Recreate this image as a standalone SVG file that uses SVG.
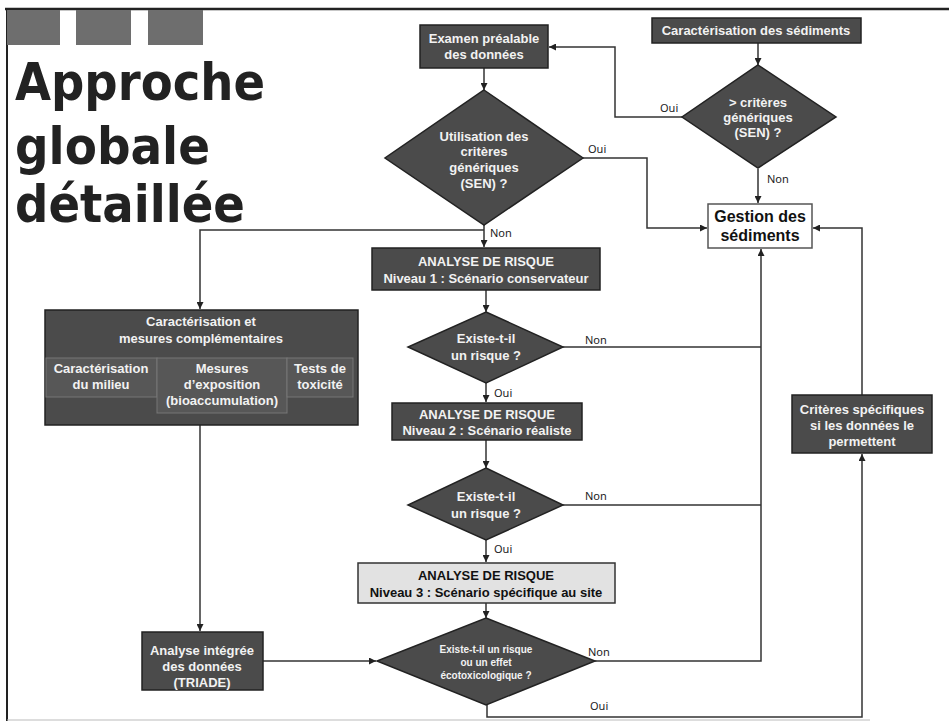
<svg xmlns="http://www.w3.org/2000/svg" width="949" height="723" viewBox="0 0 949 723">
  <defs>
    <marker id="arrow" viewBox="0 0 10 10" refX="10" refY="5" markerWidth="7" markerHeight="7" orient="auto" markerUnits="userSpaceOnUse">
      <path d="M0,0 L10,5 L0,10 z" fill="#222"/>
    </marker>
    <style>
      .frame { stroke: #222; fill: none; }
      .tab { fill: #6e6e6e; }
      .title { font-family: "DejaVu Sans", "Noto Sans", sans-serif; font-weight: bold; font-size: 52px; fill: #222; }
      .dark { fill: #4b4b4b; stroke: #222; stroke-width: 1.5; }
      .cell { fill: #575757; stroke: #777; stroke-width: 1; }
      .light { fill: #e2e2e2; stroke: #333; stroke-width: 1.5; }
      .white { fill: #fff; stroke: #555; stroke-width: 1.5; }
      .lbl { font-family: "Liberation Sans", Arial, sans-serif; font-weight: bold; font-size: 13px; fill: #f2f2f2; text-anchor: middle; }
      .lbl-dk { font-family: "Liberation Sans", Arial, sans-serif; font-weight: bold; font-size: 13px; fill: #111; text-anchor: middle; }
      .small { font-size: 10px; }
      .big { font-size: 16px; }
      .edge { font-family: "Noto Sans", "DejaVu Sans", sans-serif; font-size: 11px; fill: #222; }
      .conn path { fill: none; stroke: #333; stroke-width: 1.5; }
    </style>
  </defs>

  <rect width="949" height="723" fill="#fff"/>

  <!-- page frame and header tabs -->
  <g id="frame">
    <line class="frame" x1="5" y1="9" x2="949" y2="9" stroke-width="2.5"/>
    <line class="frame" x1="7" y1="9" x2="7" y2="721" stroke-width="2"/>
    <line x1="7" y1="720" x2="870" y2="720" stroke="#bbb" stroke-width="1"/>
    <rect class="tab" x="7" y="10" width="53" height="35"/>
    <rect class="tab" x="76" y="10" width="55" height="35"/>
    <rect class="tab" x="148" y="10" width="55" height="35"/>
  </g>

  <g id="title">
    <text class="title" x="15" y="100" textLength="250" lengthAdjust="spacingAndGlyphs">Approche</text>
    <text class="title" x="15" y="164" textLength="195" lengthAdjust="spacingAndGlyphs">globale</text>
    <text class="title" x="15" y="222" textLength="230" lengthAdjust="spacingAndGlyphs">détaillée</text>
  </g>

  <!-- connectors -->
  <g id="connectors" class="conn">
    <path d="M758,43 V65" marker-end="url(#arrow)"/>
    <path d="M682,117 H615 V47 H549" marker-end="url(#arrow)"/>
    <path d="M484,68 V90" marker-end="url(#arrow)"/>
    <path d="M583,158 H647 V228 H707" marker-end="url(#arrow)"/>
    <path d="M758,169 V203" marker-end="url(#arrow)"/>
    <path d="M484,225 V247" marker-end="url(#arrow)"/>
    <path d="M484,230 H200 V309" marker-end="url(#arrow)"/>
    <path d="M486,290 V312" marker-end="url(#arrow)"/>
    <path d="M563,347 H761"/>
    <path d="M486,383 V402" marker-end="url(#arrow)"/>
    <path d="M486,440 V468" marker-end="url(#arrow)"/>
    <path d="M563,505 H761"/>
    <path d="M486,540 V562" marker-end="url(#arrow)"/>
    <path d="M486,603 V618" marker-end="url(#arrow)"/>
    <path d="M595,661 H761 V249" marker-end="url(#arrow)"/>
    <path d="M487,705 V717 H862 V454" marker-end="url(#arrow)"/>
    <path d="M862,395 V228 H813" marker-end="url(#arrow)"/>
    <path d="M200,425 V631" marker-end="url(#arrow)"/>
    <path d="M263,661 H376" marker-end="url(#arrow)"/>
  </g>

  <!-- connector labels -->
  <g id="edge-labels">
    <text class="edge" x="660" y="112">Oui</text>
    <text class="edge" x="588" y="153">Oui</text>
    <text class="edge" x="767" y="183">Non</text>
    <text class="edge" x="490" y="237">Non</text>
    <text class="edge" x="585" y="344">Non</text>
    <text class="edge" x="494" y="397">Oui</text>
    <text class="edge" x="585" y="500">Non</text>
    <text class="edge" x="494" y="553">Oui</text>
    <text class="edge" x="588" y="656">Non</text>
    <text class="edge" x="590" y="710">Oui</text>
  </g>

  <g id="caracterisation-sediments">
    <rect class="dark" x="652" y="18" width="209" height="25"/>
    <text class="lbl" x="756" y="35">Caractérisation des sédiments</text>
  </g>

  <g id="criteres-generiques-test">
    <polygon class="dark" points="758,65 836,117 758,168 682,117"/>
    <text class="lbl" x="758" y="107">&gt; critères</text>
    <text class="lbl" x="758" y="122">génériques</text>
    <text class="lbl" x="758" y="137">(SEN) ?</text>
  </g>

  <g id="examen-prealable">
    <rect class="dark" x="420" y="25" width="128" height="43"/>
    <text class="lbl" x="484" y="43">Examen préalable</text>
    <text class="lbl" x="484" y="59">des données</text>
  </g>

  <g id="utilisation-criteres">
    <polygon class="dark" points="484,90 583,158 484,225 385,158"/>
    <text class="lbl" x="484" y="141">Utilisation des</text>
    <text class="lbl" x="484" y="156">critères</text>
    <text class="lbl" x="484" y="172">génériques</text>
    <text class="lbl" x="484" y="188">(SEN) ?</text>
  </g>

  <g id="gestion-sediments">
    <rect class="white" x="708" y="204" width="104" height="44"/>
    <text class="lbl-dk big" x="760" y="222">Gestion des</text>
    <text class="lbl-dk big" x="760" y="241">sédiments</text>
  </g>

  <g id="analyse-niveau-1">
    <rect class="dark" x="372" y="248" width="228" height="42"/>
    <text class="lbl" x="486" y="266">ANALYSE DE RISQUE</text>
    <text class="lbl" x="486" y="283">Niveau 1 : Scénario conservateur</text>
  </g>

  <g id="risque-1">
    <polygon class="dark" points="486,312 563,347 486,383 408,347"/>
    <text class="lbl" x="486" y="343">Existe-t-il</text>
    <text class="lbl" x="486" y="360">un risque ?</text>
  </g>

  <g id="analyse-niveau-2">
    <rect class="dark" x="392" y="403" width="190" height="37"/>
    <text class="lbl" x="487" y="419">ANALYSE DE RISQUE</text>
    <text class="lbl" x="487" y="435">Niveau 2 : Scénario réaliste</text>
  </g>

  <g id="risque-2">
    <polygon class="dark" points="486,468 563,505 486,540 408,505"/>
    <text class="lbl" x="486" y="501">Existe-t-il</text>
    <text class="lbl" x="486" y="518">un risque ?</text>
  </g>

  <g id="analyse-niveau-3">
    <rect class="light" x="358" y="563" width="257" height="40"/>
    <text class="lbl-dk" x="486" y="580">ANALYSE DE RISQUE</text>
    <text class="lbl-dk" x="486" y="597">Niveau 3 : Scénario spécifique au site</text>
  </g>

  <g id="risque-3">
    <polygon class="dark" points="486,618 595,661 486,705 377,661"/>
    <text class="lbl small" x="486" y="653">Existe-t-il un risque</text>
    <text class="lbl small" x="486" y="666">ou un effet</text>
    <text class="lbl small" x="486" y="679">écotoxicologique ?</text>
  </g>

  <g id="caracterisation-mesures">
    <rect class="dark" x="45" y="310" width="313" height="115"/>
    <text class="lbl" x="201" y="326">Caractérisation et</text>
    <text class="lbl" x="201" y="343">mesures complémentaires</text>
    <rect class="cell" x="46" y="358" width="111" height="39"/>
    <text class="lbl" x="101" y="373">Caractérisation</text>
    <text class="lbl" x="101" y="389">du milieu</text>
    <rect class="cell" x="157" y="358" width="130" height="55"/>
    <text class="lbl" x="222" y="373">Mesures</text>
    <text class="lbl" x="222" y="389">d’exposition</text>
    <text class="lbl" x="222" y="405">(bioaccumulation)</text>
    <rect class="cell" x="287" y="358" width="66" height="39"/>
    <text class="lbl" x="320" y="373">Tests de</text>
    <text class="lbl" x="320" y="389">toxicité</text>
  </g>

  <g id="analyse-integree">
    <rect class="dark" x="142" y="632" width="121" height="58"/>
    <text class="lbl" x="202" y="655">Analyse intégrée</text>
    <text class="lbl" x="202" y="671">des données</text>
    <text class="lbl" x="202" y="687">(TRIADE)</text>
  </g>

  <g id="criteres-specifiques">
    <rect class="dark" x="792" y="395" width="140" height="58"/>
    <text class="lbl" x="862" y="414">Critères spécifiques</text>
    <text class="lbl" x="862" y="430">si les données le</text>
    <text class="lbl" x="862" y="446">permettent</text>
  </g>
</svg>
